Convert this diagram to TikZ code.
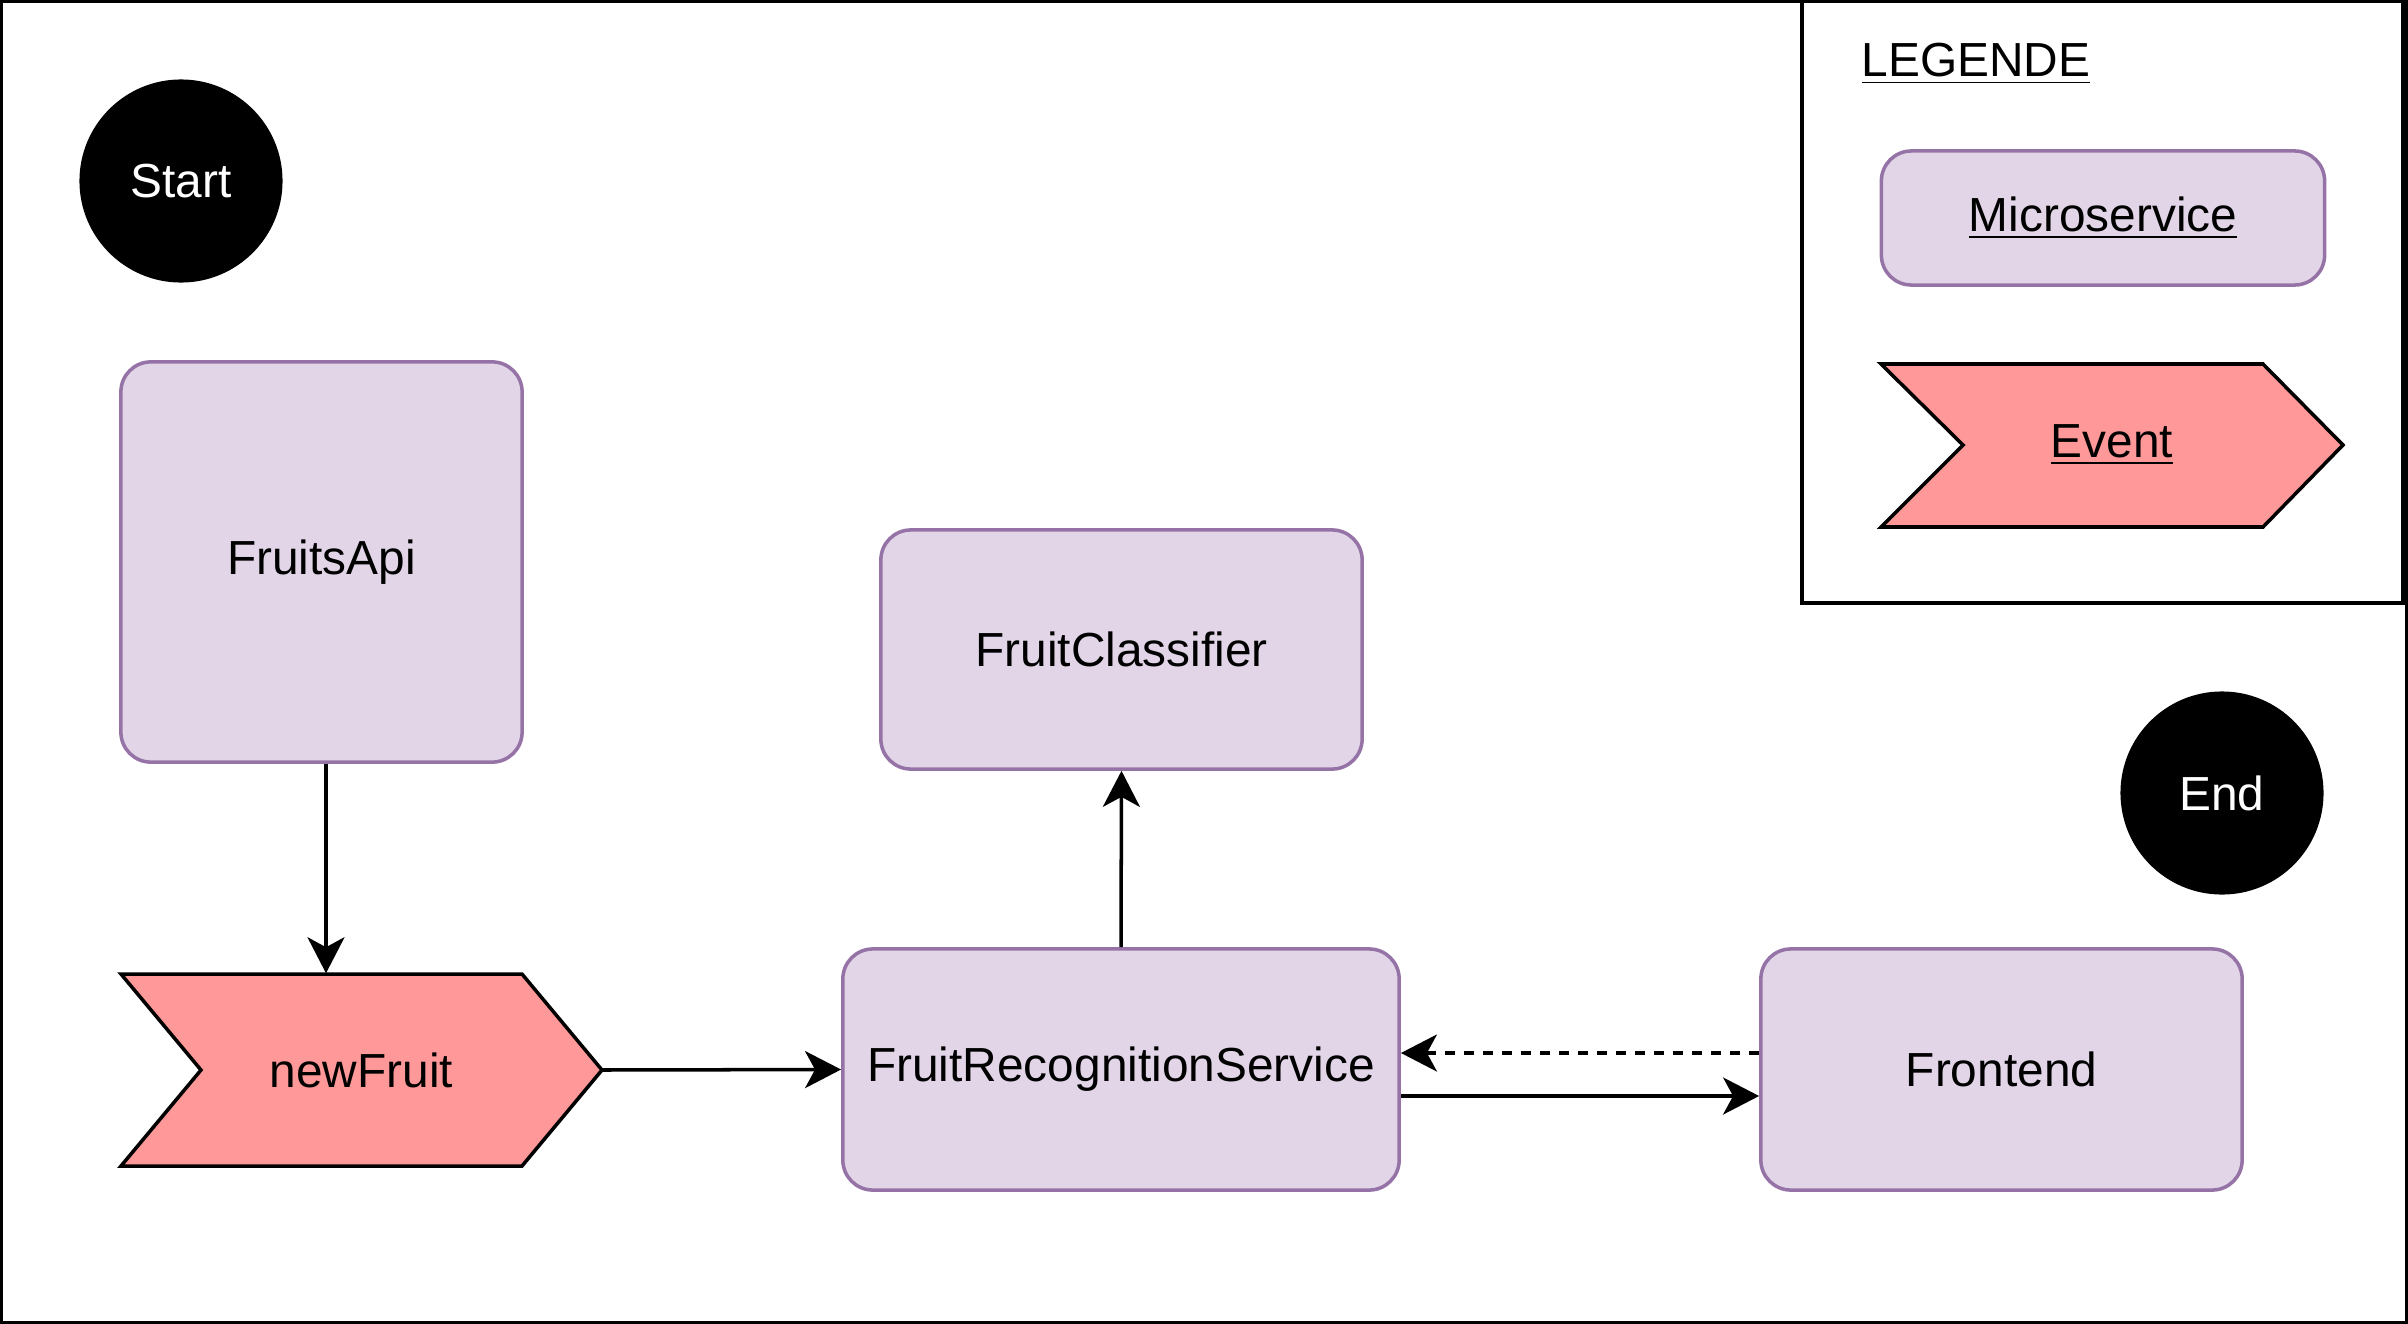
\documentclass[tikz,border=0pt]{standalone}
\usepackage{fontspec}
\setmainfont{Liberation Sans}
\usetikzlibrary{arrows.meta,calc}
\definecolor{msfill}{HTML}{E1D5E7}
\definecolor{msline}{HTML}{9673A6}
\definecolor{evfill}{HTML}{FF9999}
\newcommand{\lbl}{\fontsize{13.6}{16}\selectfont}
\tikzset{
  ms/.style={draw=msline, fill=msfill, rounded corners=0.3cm, line width=1pt, font=\lbl, inner sep=0pt},
  circ/.style={circle, fill=black, text=white, minimum size=2.03cm, font=\lbl, inner sep=0pt},
  evshape/.style={draw=black, fill=evfill, line width=1pt, line join=miter},
  evlabel/.style={font=\lbl, inner sep=0pt},
  arr/.style={-{Stealth[length=0.36cm,width=0.37cm,inset=0.1cm]}, line width=1pt},
  frame/.style={draw=black, line width=1pt}
}
\begin{document}
\begin{tikzpicture}[x=0.01cm, y=-0.01cm]
\useasboundingbox (0,0) rectangle (2408,1324);
\fill[white] (0,0) rectangle (2408,1324);
\draw[frame] (1.5,1.5) rectangle (2406.5,1322.5);
% legend
\draw[frame] (1802,1.5) rectangle (2403,603);
\node[font=\lbl, anchor=west, inner sep=0pt] (legende) at (1861,64) {\underline{LEGENDE}};
\node[ms, minimum width=4.43cm, minimum height=1.34cm] (legms) at (2103,218) {\underline{Microservice}};
\draw[evshape] (1881,364) -- (2263,364) -- (2343,445) -- (2263,527) -- (1881,527) -- (1963,445) -- cycle;
\node[evlabel, minimum width=4.62cm, minimum height=1.63cm] (legev) at (2112,445) {\underline{Event}};
% start / end
\node[circ] (start) at (181,181) {Start};
\node[circ] (end) at (2222,793) {End};
% microservices
\node[ms, minimum width=4.01cm, minimum height=4.00cm] (api) at (321.5,562) {FruitsApi};
\node[ms, minimum width=4.81cm, minimum height=2.39cm] (cls) at (1121.5,649.5) {FruitClassifier};
\node[ms, minimum width=5.56cm, minimum height=2.41cm] (frs) at (1121,1069.5) {FruitRecognitionService};
\node[ms, minimum width=4.81cm, minimum height=2.41cm] (front) at (2001.5,1069.5) {Frontend};
% event newFruit
\draw[evshape] (121,974) -- (522,974) -- (602,1070) -- (522,1166) -- (121,1166) -- (201,1070) -- cycle;
\node[evlabel, minimum width=4.81cm, minimum height=1.92cm] (nf) at (361.5,1070) {newFruit};
% connectors
\draw[arr] ([xshift=0.045cm]api.south) -- ([xshift=0.045cm]api.south |- nf.north);
\draw[arr] (nf.east) -- (frs.west);
\draw[arr] (frs.north) -- (cls.south);
\draw[arr, dash pattern=on 3pt off 2.4pt] ($(front.west)+(0,-16.5)$) -- ($(frs.east)+(0,-16.5)$);
\draw[arr] ($(frs.east)+(0,26.5)$) -- ($(front.west)+(0,26.5)$);
\end{tikzpicture}
\end{document}
